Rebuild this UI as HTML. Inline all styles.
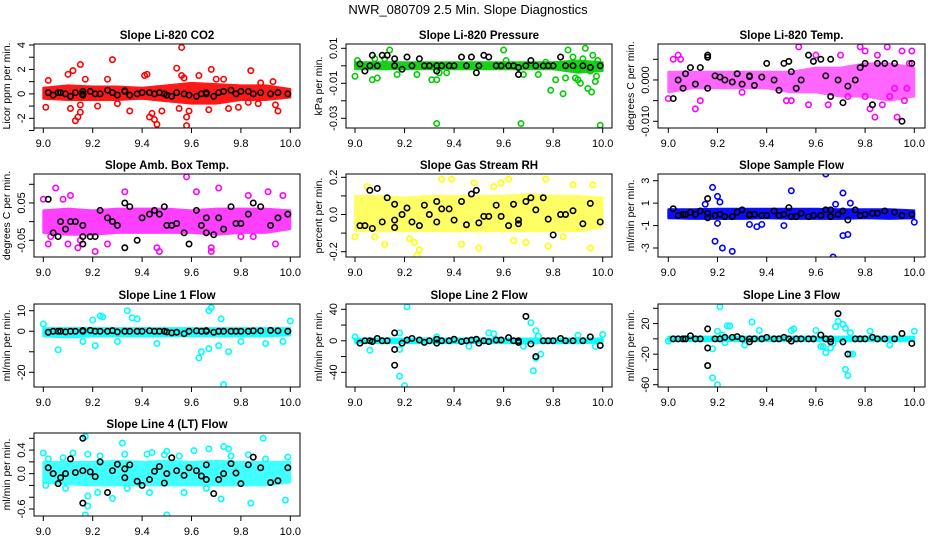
<!DOCTYPE html>
<html><head><meta charset="utf-8"><style>
html,body{margin:0;padding:0;background:#fff;}
svg{display:block;font-family:"Liberation Sans",sans-serif;}
</style></head><body>
<svg id="chart" width="936" height="540" viewBox="0 0 936 540" xmlns="http://www.w3.org/2000/svg">
<rect width="936" height="540" fill="#fff"/>
<text x="468" y="14" text-anchor="middle" font-size="13">NWR_080709  2.5 Min. Slope Diagnostics</text>
</svg>
<script>
// shared time categories of the black (averaged) points
const blackX=[9.02,9.04,9.06,9.07,9.09,9.11,9.13,9.16,9.16,9.16,9.19,9.21,9.23,9.26,9.28,9.30,9.33,9.33,9.35,9.38,9.40,9.43,9.45,9.47,9.49,9.50,9.52,9.54,9.57,9.59,9.62,9.64,9.66,9.66,9.69,9.71,9.73,9.76,9.78,9.80,9.83,9.85,9.88,9.92,9.95,9.99];
const bandX=[9.0,9.1,9.2,9.3,9.4,9.5,9.6,9.7,9.8,9.9,10.0];
const xTicks=[9.0,9.2,9.4,9.6,9.8,10.0];
const xTickLabels=["9.0","9.2","9.4","9.6","9.8","10.0"];

const titles=["Slope Li-820 CO2","Slope Li-820 Pressure","Slope Li-820 Temp.","Slope Amb. Box Temp.","Slope Gas Stream RH","Slope Sample Flow","Slope Line 1 Flow","Slope Line 2 Flow","Slope Line 3 Flow","Slope Line 4 (LT) Flow"];
const yTitles=["Licor ppm per min.","kPa per min.","degrees C per min.","degrees C per min.","percent per min.","ml/min per min.","ml/min per min.","ml/min per min.","ml/min per min.","ml/min per min."];
const colors=["#ff0000","#00cc00","#ff00ff","#ff00ff","#ffff00","#0000ff","#00ffff","#00ffff","#00ffff","#00ffff"];
const bandOpacity=[0.9,0.9,0.6,0.75,0.6,0.95,0.9,0.95,0.95,0.75];

const yTicks=[[-3,-2,-1,0,1,2,3,4],[0.01,0,-0.01,-0.02,-0.03],[0.005,0,-0.005,-0.01],[0.1,0.05,0,-0.05],[0.2,0.1,0,-0.1,-0.2],[3,1,-1,-3],[10,0,-10,-20],[40,20,0,-20,-40],[40,20,0,-20,-40,-60],[0.6,0.4,0.2,0,-0.2,-0.4,-0.6]];
const yTickLabels=[["","-2","","0","","2","","4"],["0.01","","-0.01","","-0.03"],["","0.000","","-0.010"],["","0.05","","-0.05"],["0.2","","0.0","","-0.2"],["3","1","-1","-3"],["10","0","","-20"],["40","","0","","-40"],["","20","","-20","","-60"],["","0.4","","0.0","","","-0.6"]];

const bandLo=[[-0.4,-0.5,-0.5,-0.5,-0.4,-0.6,-0.8,-0.8,-0.5,-0.5,-0.3],[-0.002,-0.002,-0.002,-0.002,-0.002,-0.002,-0.002,-0.002,-0.002,-0.004,-0.003],[-0.003,-0.002,-0.002,-0.002,-0.002,-0.003,-0.003,-0.004,-0.004,-0.005,-0.004],[-0.03,-0.035,-0.035,-0.03,-0.03,-0.03,-0.03,-0.035,-0.03,-0.03,-0.02],[-0.09,-0.09,-0.09,-0.09,-0.09,-0.09,-0.09,-0.09,-0.09,-0.09,-0.07],[-0.35,-0.4,-0.4,-0.4,-0.35,-0.4,-0.4,-0.4,-0.35,-0.4,-0.35],[-2.5,-3,-2.5,-2.5,-2.5,-2.5,-2.5,-2.5,-2.5,-2.5,-2],[-2.5,-3,-3,-3,-3,-3,-3,-3,-3,-3,-2.5],[-3,-3,-3,-3,-3,-3,-3,-3,-3,-3,-3],[-0.15,-0.18,-0.2,-0.2,-0.2,-0.2,-0.2,-0.2,-0.2,-0.2,-0.15]];
const bandHi=[[0.5,0.7,0.6,0.6,0.5,0.7,0.9,0.8,0.7,0.7,0.4],[0.002,0.002,0.002,0.002,0.002,0.002,0.002,0.002,0.002,0.003,0.002],[0.002,0.002,0.002,0.002,0.002,0.002,0.003,0.003,0.004,0.004,0.003],[0.03,0.035,0.03,0.035,0.035,0.035,0.03,0.035,0.035,0.035,0.03],[0.1,0.1,0.09,0.1,0.1,0.1,0.1,0.11,0.1,0.1,0.09],[0.45,0.45,0.5,0.5,0.5,0.5,0.5,0.45,0.45,0.45,0.35],[1.5,1.5,1.5,1.5,1.5,1.5,1.5,1.5,1.5,1.5,1.5],[3,3,3,3,3,3,3,3,3,3,3],[3,3,3,3,3,3,3,3,3,3,3],[0.2,0.2,0.2,0.22,0.2,0.22,0.2,0.22,0.2,0.2,0.2]];

const outX=[
[9.01,9.02,9.1,9.11,9.12,9.13,9.14,9.15,9.15,9.15,9.17,9.22,9.26,9.28,9.3,9.35,9.41,9.42,9.43,9.44,9.45,9.46,9.48,9.54,9.55,9.56,9.56,9.57,9.58,9.58,9.59,9.63,9.67,9.68,9.7,9.75,9.79,9.84,9.83,9.87,9.93,9.95,9.94,9.88,9.73],
[9.0,9.01,9.07,9.08,9.09,9.14,9.12,9.17,9.25,9.31,9.33,9.33,9.34,9.37,9.6,9.61,9.67,9.68,9.74,9.79,9.81,9.84,9.85,9.86,9.88,9.89,9.9,9.91,9.93,9.94,9.95,9.96,9.97,9.975,9.98,9.99,9.955,9.92,9.9,9.77],
[9.0,9.02,9.04,9.05,9.11,9.13,9.3,9.48,9.5,9.53,9.57,9.6,9.65,9.7,9.78,9.8,9.82,9.84,9.85,9.87,9.89,9.9,9.92,9.93,9.95,9.96,9.97,9.98,9.99,9.8,9.73],
[9.0,9.02,9.03,9.05,9.08,9.11,9.14,9.15,9.21,9.26,9.33,9.46,9.47,9.58,9.62,9.71,9.68,9.68,9.8,9.83,9.91,9.94,9.97,9.85,9.1],
[9.0,9.12,9.22,9.24,9.25,9.26,9.35,9.39,9.43,9.48,9.5,9.56,9.59,9.62,9.64,9.69,9.77,9.78,9.88,9.96,9.95,9.84,9.05,9.08],
[9.18,9.2,9.19,9.21,9.22,9.26,9.2,9.33,9.36,9.38,9.47,9.5,9.64,9.67,9.71,9.71,9.73,9.74,9.68,10.0,9.15],
[9.0,9.06,9.2,9.23,9.24,9.34,9.36,9.38,9.46,9.63,9.64,9.67,9.68,9.67,9.71,9.72,9.73,9.75,9.8,9.9,9.97,10.0,9.16,9.21,9.3],
[9.0,9.06,9.18,9.2,9.21,9.18,9.18,9.46,9.54,9.56,9.68,9.71,9.72,9.73,9.73,9.75,9.74,9.9,9.97,10.0,9.33],
[9.0,9.2,9.18,9.18,9.2,9.21,9.22,9.23,9.24,9.25,9.34,9.37,9.5,9.51,9.6,9.62,9.63,9.64,9.66,9.67,9.68,9.69,9.71,9.72,9.72,9.73,9.74,9.75,9.74,9.82,9.9,10.0,9.31],
[9.0,9.01,9.02,9.08,9.09,9.12,9.17,9.17,9.18,9.18,9.18,9.22,9.23,9.28,9.32,9.33,9.34,9.42,9.44,9.43,9.49,9.5,9.55,9.57,9.61,9.67,9.66,9.72,9.73,9.75,9.76,9.83,9.84,9.89,9.98,9.99,9.9,9.5]];
const outY=[
[-1.1,1.1,1.6,-1.2,1.9,-2.2,-1.9,-1.5,-0.9,2.4,1.2,-1,1.2,2.8,-0.8,-1.4,1.5,1.6,-1.9,-1.6,-2.1,-2.5,-1.4,2.1,-1.2,3.8,1.5,1.3,-1.9,-2.6,-1.4,1.5,-1.3,2.0,1.2,-1.2,-1.1,1.9,-0.7,-0.8,1,-1.4,-0.9,0.9,1.2],
[-0.006,0.003,-0.008,0.004,-0.007,0.009,0.004,-0.005,-0.005,-0.008,-0.033,-0.008,-0.004,-0.004,0.009,0.003,-0.033,-0.005,-0.005,-0.014,-0.008,-0.016,-0.007,0.009,0.005,-0.007,-0.008,-0.01,0.01,-0.013,-0.003,0.006,-0.009,-0.006,0.003,-0.034,-0.015,0.004,-0.002,0.002],
[-0.0045,0.005,0.006,0.005,-0.007,-0.005,-0.003,-0.005,-0.005,0.008,-0.006,0.006,-0.006,0.006,0.008,0.007,-0.007,-0.009,0.006,-0.006,0.008,-0.004,-0.002,-0.009,0.007,-0.005,-0.002,0.004,0.007,-0.004,-0.004],
[0.06,-0.06,-0.04,0.09,0.06,0.07,-0.07,-0.05,-0.08,-0.06,0.08,-0.07,-0.08,0.12,0.08,0.09,-0.07,-0.08,-0.04,0.07,0.08,-0.06,0.07,-0.04,-0.06],
[-0.12,-0.16,-0.13,-0.15,-0.22,-0.19,0.19,0.19,-0.16,0.17,-0.18,0.15,0.17,0.19,-0.14,-0.15,0.19,-0.17,0.16,0.16,-0.18,-0.12,0.15,-0.12],
[2.4,1.6,-2.4,1.1,-3.0,-3.3,-0.8,-0.9,-1.1,-0.9,-1.0,2.1,3.6,-3.8,1.9,-1.9,-1.8,1.0,0.9,-0.7,0.9],
[3.5,-9,5.5,7.5,7,10,6.5,6,-6,-13,-10,10,11.5,-8.5,-7,6,-26,-10,-5,-6,-5,5,-5,-7,-5],
[5,-12,-45,-57,43,10,-11,-7,10,9,-7,23,-38,13,-22,-17,6,7,-7,8,5],
[-3,-60,-51,-13,10,42,5,-5,17,17,22,11,11,13,11,-10,-10,-18,-12,-6,16,23,19,14,-40,-48,-20,-20,8,10,-8,10,-8],
[0.35,-0.2,0.25,0.27,-0.25,0.35,0.63,-0.7,-0.38,-0.55,0.33,-0.32,0.3,-0.42,0.52,0.33,-0.25,0.33,0.36,-0.32,0.32,-0.7,0.3,-0.32,0.39,0.42,-0.25,-0.43,0.46,0.42,0.3,0.32,-0.5,0.6,-0.45,0.28,0.25,0.38]];

const blackY=[
[0.1,-0.1,0.1,0.1,0.0,-0.2,0.1,0.0,0.2,-0.1,0.2,0.0,0.0,0.3,0.1,-0.1,0.25,0.2,-0.1,0.0,0.1,0.1,0.0,0.1,0.0,-0.1,-0.2,0.1,0.0,-0.1,-0.2,0.0,0.1,0.0,-0.2,0.1,0.2,0.3,0.0,0.2,0.2,0.0,0.1,0.0,0.1,0.0],
[0.001,-0.003,0.0,0.006,0.0,0.006,0.006,0.0,0.004,0.0,-0.002,0.005,0.0,0.004,0.0,0.0,0.0,-0.003,0.0,0.0,0.0,0.005,0.0,0.005,-0.004,0.0,0.006,0.005,0.0,0.0,0.0,0.0,-0.001,-0.005,0.0,0.003,0.0,0.0,0.0,0.0,0.005,0.0,0.0,0.0,-0.001,0.0],
[-0.0045,0.0,-0.002,0.0015,0.003,-0.001,0.003,0.006,0.0055,-0.002,0.001,0.0007,0.0,-0.0005,0.0015,-0.001,0.0008,0.001,-0.0013,0.0007,0.004,0.0,-0.0025,0.004,0.0045,0.002,-0.002,0.0,0.006,0.0045,0.005,0.001,0.005,-0.004,0.0,-0.0055,-0.0015,0.0,0.003,0.004,-0.006,0.004,0.004,0.004,-0.01,0.004],
[0.06,-0.03,-0.04,0.0,-0.02,0.0,0.0,-0.01,-0.04,-0.06,-0.04,-0.04,0.03,0.01,0.0,-0.01,0.05,-0.07,0.04,-0.05,0.01,0.02,0.03,0.02,0.04,-0.01,-0.01,-0.005,-0.03,-0.06,0.03,-0.01,0.01,-0.03,-0.035,0.01,-0.02,0.04,-0.005,-0.005,0.02,0.05,0.04,-0.01,0.01,0.02],
[-0.06,-0.06,0.13,-0.075,0.14,-0.04,0.09,0.055,-0.07,-0.03,0.0,0.035,-0.04,-0.06,0.05,0.0,0.07,-0.04,0.03,0.03,-0.03,0.07,-0.055,0.11,0.13,-0.045,-0.01,-0.01,0.05,-0.01,-0.06,0.055,-0.03,-0.05,0.07,0.09,0.025,0.09,-0.025,-0.11,0.0,0.0,0.02,-0.05,0.06,-0.04],
[0.5,-0.1,0.0,0.0,0.2,0.0,0.3,1.4,0.1,-0.3,-0.1,0.0,-0.2,-0.2,0.2,0.4,-0.1,0.0,0.0,-0.1,-0.1,0.3,-0.1,0.0,0.6,-0.2,-0.2,0.1,-0.2,-0.1,-0.1,0.4,0.4,-0.2,0.0,0.3,-0.5,0.4,-0.1,0.0,0.1,0.1,0.3,0.2,-0.1,0.0],
[-0.5,0,0,0,-0.3,0,0,0.3,0,0.3,0.4,0,0,0,0.3,-0.3,0,0,0,0,0,0.2,0,0,0,-0.3,-0.8,-0.5,-1.2,0,0.2,0,0.3,0,-0.5,0,0,0,0,0,0,0.2,0.2,0.4,0.2,0],
[-3,0,0,-1,3,0,0,10,-11,-31,-3,1,3,1,-2,0,2,-3,0,0,2,-1,0,1,2,-3,0,-1,1,1,4,0,0,-2,31,-4,-20,0,0,0,3,0,0,0,5,-6],
[0,0,0,0,4,0,0,13,-12,-35,0,0,2,2,3,0,0,-4,0,0,2,0,0,2,0,-3,0,0,0,0,5,0,0,-4,33,-4,-20,0,0,0,2,0,0,0,7,-6],
[0.1,0.0,-0.17,-0.07,0.0,0.25,0.02,0.6,0.05,-0.5,0.03,-0.05,0.2,-0.32,0.05,0.16,0.08,-0.07,0.15,-0.13,-0.2,-0.1,0.04,0.12,-0.16,0.0,0.27,0.05,-0.03,0.1,0.05,-0.04,0.15,-0.1,-0.34,-0.1,0.0,0.17,0.01,-0.17,0.15,0.28,0.1,-0.15,-0.12,0.1]];

const NS="http://www.w3.org/2000/svg";
const svg=document.getElementById('chart');
const colBox=[[34,300,43.3,290.3],[346,612,355,602.7],[658,925,668.3,914.3]];
const rowBox=[[44,128],[174,257],[304,387],[433,516]];
const yCal=[[4,45,-2,118.3],[0.01,48.3,-0.03,118.3],[0.005,59.3,-0.01,121.3],[0.1,184.3,-0.05,240.3],[0.2,177.3,-0.2,251.7],[3,180.7,-3,248],[10,310.7,-20,372.3],[40,309.3,-40,372.3],[40,308.3,-60,384.7],[0.6,438.3,-0.6,509]];

function mk(tag,attrs,parent){const e=document.createElementNS(NS,tag);for(const k in attrs)e.setAttribute(k,attrs[k]);(parent||svg).appendChild(e);return e;}

for(let p=0;p<10;p++){
  const c=colBox[p%3], r=rowBox[Math.floor(p/3)], cal=yCal[p];
  const xs=v=>c[2]+(v-9)*(c[3]-c[2]);
  const ys=v=>cal[1]+(v-cal[0])*(cal[3]-cal[1])/(cal[2]-cal[0]);
  const g=mk('g',{});
  
  
  const clipId='clip'+p;
  const cp=mk('clipPath',{id:clipId},g);
  mk('rect',{x:c[0],y:r[0],width:c[1]-c[0],height:r[1]-r[0]},cp);
  const pg=mk('g',{'clip-path':'url(#'+clipId+')'},g);
  let pts=[];
  for(let i=0;i<bandX.length;i++)pts.push(xs(bandX[i])+','+ys(bandHi[p][i]));
  for(let i=bandX.length-1;i>=0;i--)pts.push(xs(bandX[i])+','+ys(bandLo[p][i]));
  const band=mk('polygon',{points:pts.join(' '),fill:colors[p],stroke:colors[p],'stroke-width':2,'stroke-linejoin':'round',opacity:bandOpacity[p]},pg);
  
  
  for(let i=0;i<outX[p].length;i++){
    const ci=mk('circle',{cx:xs(outX[p][i]),cy:ys(outY[p][i]),r:2.7,fill:'none',stroke:colors[p],'stroke-width':1.6},pg);
    
    
  }
  for(let i=0;i<blackX.length;i++){
    const ci=mk('circle',{cx:xs(blackX[i]),cy:ys(blackY[p][i]),r:2.7,fill:'none',stroke:'#000','stroke-width':1.6},pg);
    
    
  }
  mk('rect',{x:c[0],y:r[0],width:c[1]-c[0],height:r[1]-r[0],fill:'none',stroke:'#000','stroke-width':1},g);
  const t=mk('text',{x:(c[0]+c[1])/2,y:r[0]-5,'text-anchor':'middle','font-size':11.5,'font-weight':'bold'},g);
  t.textContent=titles[p];
  
  
  mk('line',{x1:xs(9),x2:xs(10),y1:r[1],y2:r[1],stroke:'#000'},g);
  for(let i=0;i<xTicks.length;i++){
    const x=xs(xTicks[i]);
    mk('line',{x1:x,x2:x,y1:r[1],y2:r[1]+5,stroke:'#000'},g);
    const tl=mk('text',{x:x,y:r[1]+19,'text-anchor':'middle','font-size':11},g);
    tl.textContent=xTickLabels[i];
    
    
  }
  const yt=yTicks[p];
  mk('line',{x1:c[0],x2:c[0],y1:ys(yt[0]),y2:ys(yt[yt.length-1]),stroke:'#000'},g);
  for(let i=0;i<yt.length;i++){
    const y=ys(yt[i]);
    mk('line',{x1:c[0]-5,x2:c[0],y1:y,y2:y,stroke:'#000'},g);
    if(yTickLabels[p][i]){
      const tl=mk('text',{x:c[0]-9,y:y,'text-anchor':'middle','font-size':11,transform:'rotate(-90 '+(c[0]-9)+' '+y+')'},g);
      tl.textContent=yTickLabels[p][i];
      
      
    }
  }
  const ym=(r[0]+r[1])/2, yx=c[0]-24;
  const yl=mk('text',{x:yx,y:ym,'text-anchor':'middle','font-size':10.5,transform:'rotate(-90 '+yx+' '+ym+')'},g);
  yl.textContent=yTitles[p];
  
  
}
</script>
</body></html>
